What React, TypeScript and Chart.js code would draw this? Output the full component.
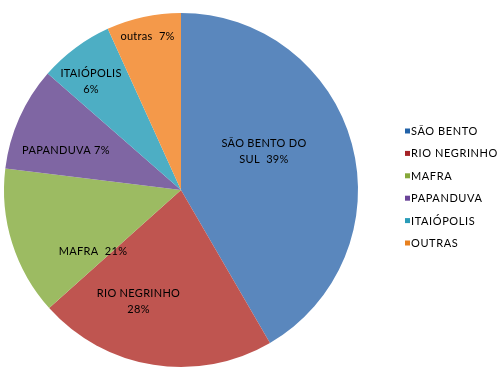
import React, { useEffect, useRef } from "react";
import { Chart, registerables } from "chart.js";

Chart.register(...registerables);

const categories = ["SÃO BENTO", "RIO NEGRINHO", "MAFRA", "PAPANDUVA", "ITAIÓPOLIS", "OUTRAS"];
const shares = [41.7, 21.8, 13.6, 9.5, 6.8, 6.8];
const sliceLabels = [
  ["SÃO BENTO DO", "SUL  39%"],
  ["RIO NEGRINHO", "28%"],
  ["MAFRA  21%"],
  ["PAPANDUVA 7%"],
  ["ITAIÓPOLIS", "6%"],
  ["outras  7%"],
];

const sliceColors = ["#5a87bd", "#bf5550", "#9cbb62", "#7f66a3", "#4daec4", "#f4994a"];
const legendColors = ["#2262a8", "#a52226", "#86a83a", "#6a4498", "#2a9cb8", "#e8801e"];
// label anchor relative to pie centre, in units of radius
const labelAnchors = [
  [0.469, -0.215],
  [-0.24, 0.63],
  [-0.497, 0.35],
  [-0.65, -0.226],
  [-0.508, -0.616],
  [-0.189, -0.87],
];

const FONT = "11px Lato, 'Open Sans', sans-serif";

const labelPlugin = {
  id: "customLabels",
  afterDraw(chart: any) {
    const ctx = chart.ctx;
    const meta = chart.getDatasetMeta(0);
    const arc0 = meta.data[0];
    if (!arc0) return;
    const cx = arc0.x;
    const cy = arc0.y;
    const r = arc0.outerRadius;
    ctx.save();
    ctx.font = FONT;
    ctx.fillStyle = "#000";
    ctx.textAlign = "center";
    ctx.textBaseline = "middle";
    (ctx as any).letterSpacing = "0.3px";
    sliceLabels.forEach((lines, i) => {
      const [fx, fy] = labelAnchors[i];
      const x = cx + fx * r;
      const y = cy + fy * r;
      const lh = 16;
      const y0 = y - ((lines.length - 1) * lh) / 2;
      lines.forEach((t, j) => ctx.fillText(t, x, y0 + j * lh));
    });
    // legend
    const lx = 405;
    const ly0 = 131;
    const step = 22.4;
    ctx.textAlign = "left";
    (ctx as any).letterSpacing = "0.6px";
    categories.forEach((c, i) => {
      const y = ly0 + i * step;
      ctx.fillStyle = legendColors[i];
      ctx.fillRect(lx, y - 2.5, 5, 5);
      ctx.fillStyle = "#000";
      ctx.fillText(c, lx + 6, y + 0.5);
    });
    ctx.restore();
  },
};

export default function App() {
  const ref = useRef<HTMLCanvasElement>(null);
  useEffect(() => {
    document.body.style.margin = "0";
    const chart = new Chart(ref.current!, {
      type: "pie",
      data: {
        labels: categories,
        datasets: [
          {
            data: shares,
            backgroundColor: sliceColors,
            borderWidth: 0,
          },
        ],
      },
      options: {
        animation: false,
        responsive: false,
        layout: { padding: { left: 4, right: 140, top: 13, bottom: 4 } },
        plugins: {
          legend: { display: false },
          tooltip: { enabled: false },
        },
      },
      plugins: [labelPlugin],
    });
    return () => chart.destroy();
  }, []);
  return (
    <div style={{ width: 498, height: 371, background: "#fff" }}>
      <canvas ref={ref} width={498} height={371} />
    </div>
  );
}
